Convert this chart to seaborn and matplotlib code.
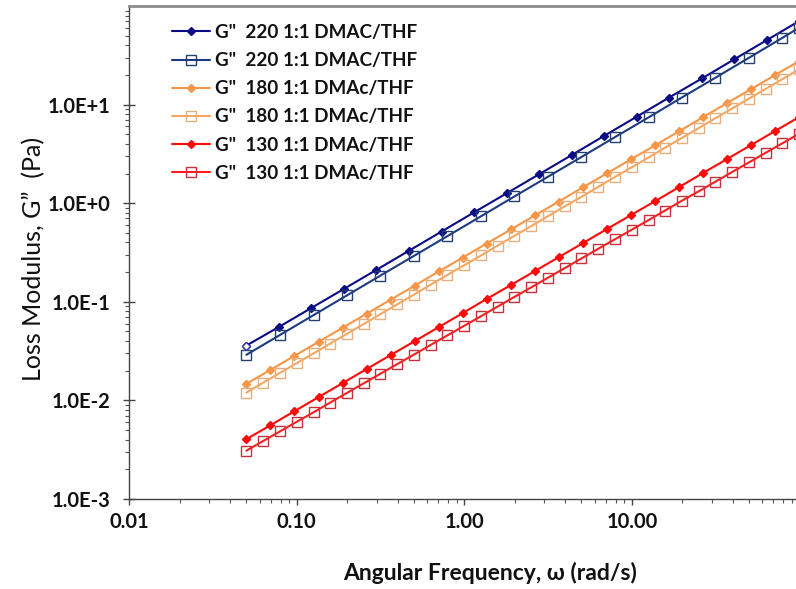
import matplotlib
matplotlib.use("Agg")
import matplotlib.pyplot as plt
import matplotlib.ticker as mticker
import seaborn as sns

# Angular frequency grids (rad/s)
w_220_d = [0.05, 0.0782, 0.122, 0.191, 0.299, 0.468, 0.732, 1.14, 1.79, 2.80, 4.38,
           6.84, 10.7, 16.7, 26.2, 40.9, 64.0, 100.0]
w_220_s = [0.05, 0.0792, 0.126, 0.199, 0.315, 0.500, 0.792, 1.26, 1.99, 3.15, 5.00,
           7.92, 12.6, 19.9, 31.5, 50.0, 79.2, 100.0]
w_d = [0.05, 0.0696, 0.0968, 0.135, 0.188, 0.261, 0.363, 0.506, 0.704, 0.979, 1.36,
       1.90, 2.64, 3.67, 5.11, 7.11, 9.90, 13.8, 19.2, 26.7, 37.1, 51.7, 71.9, 100.0]
w_s = [0.05, 0.0629, 0.0792, 0.0998, 0.126, 0.158, 0.199, 0.251, 0.315, 0.397, 0.500,
       0.629, 0.792, 0.998, 1.26, 1.58, 1.99, 2.51, 3.15, 3.97, 5.00, 6.29, 7.92, 9.98,
       12.6, 15.8, 19.9, 25.1, 31.5, 39.7, 50.0, 62.9, 79.2, 99.8]

# Loss modulus G'' (Pa)
g_220_d = [0.0360, 0.0556, 0.0865, 0.135, 0.211, 0.330, 0.516, 0.805, 1.26, 1.97, 3.08,
           4.82, 7.54, 11.8, 18.4, 28.8, 45.1, 70.5]
g_220_s = [0.0290, 0.0460, 0.0733, 0.116, 0.184, 0.292, 0.463, 0.738, 1.17, 1.85, 2.94,
           4.67, 7.42, 11.8, 18.7, 29.8, 47.5, 60.5]
g_180_d = [0.0147, 0.0204, 0.0283, 0.0393, 0.0546, 0.0757, 0.105, 0.146, 0.203, 0.281,
           0.390, 0.542, 0.752, 1.04, 1.45, 2.01, 2.79, 3.87, 5.38, 7.46, 10.4, 14.4,
           20.0, 27.7]
g_180_s = [0.0120, 0.0151, 0.0190, 0.0238, 0.0300, 0.0377, 0.0474, 0.0595, 0.0748,
           0.0941, 0.118, 0.149, 0.187, 0.235, 0.295, 0.371, 0.466, 0.586, 0.737, 0.927,
           1.16, 1.46, 1.84, 2.31, 2.91, 3.66, 4.59, 5.78, 7.26, 9.13, 11.5, 14.4, 18.1,
           22.8]
g_130_d = [0.00404, 0.00560, 0.00777, 0.0108, 0.0150, 0.0208, 0.0288, 0.0399, 0.0554,
           0.0768, 0.107, 0.148, 0.205, 0.284, 0.394, 0.547, 0.759, 1.05, 1.46, 2.03,
           2.81, 3.90, 5.41, 7.50]
g_130_s = [0.00309, 0.00387, 0.00484, 0.00606, 0.00758, 0.00949, 0.0119, 0.0149, 0.0186,
           0.0233, 0.0291, 0.0365, 0.0456, 0.0571, 0.0715, 0.0894, 0.112, 0.140, 0.175,
           0.219, 0.275, 0.344, 0.430, 0.538, 0.674, 0.843, 1.06, 1.32, 1.65, 2.07, 2.59,
           3.24, 4.05, 5.07]

labels = ['G"  220 1:1 DMAC/THF', 'G"  220 1:1 DMAC/THF',
          'G"  180 1:1 DMAc/THF', 'G"  180 1:1 DMAc/THF',
          'G"  130 1:1 DMAc/THF', 'G"  130 1:1 DMAc/THF']

x_ticks = [0.01, 0.1, 1, 10]
x_ticklabels = ["0.01", "0.10", "1.00", "10.00"]
y_ticks = [1e-3, 1e-2, 1e-1, 1e0, 1e1]
y_ticklabels = ["1.0E-3", "1.0E-2", "1.0E-1", "1.0E+0", "1.0E+1"]

sns.set_style("white")
plt.rcParams['font.family'] = ['Lato', 'DejaVu Sans']

W, H = 796, 589
fig = plt.figure(figsize=(W / 100, H / 100), dpi=100)
ax = fig.add_axes([129.3 / W, 90 / H, 670 / W, 493 / H])
ax.set_xscale("log")
ax.set_yscale("log")

series = [
    (w_220_d, g_220_d, labels[0], "D", "#0B0B86", "#0B0B86", "#0B0B86", 4.4),
    (w_220_s, g_220_s, labels[1], "s", "#1C3A80", "none", "#24406E", 6.6),
    (w_d, g_180_d, labels[2], "D", "#F79646", "#F79646", "#F79646", 4.4),
    (w_s, g_180_s, labels[3], "s", "#F5A65E", "none", "#E9AE7E", 6.6),
    (w_d, g_130_d, labels[4], "D", "#FF0A0A", "#FF0A0A", "#FF0A0A", 4.4),
    (w_s, g_130_s, labels[5], "s", "#FF1E1E", "none", "#C8323C", 6.6),
]
for x, y, lab, mk, lc, fc, ec, ms in series:
    sns.lineplot(x=x, y=y, ax=ax, label=lab, color=lc, linewidth=1.5,
                 marker=mk, markersize=ms, markerfacecolor=fc,
                 markeredgecolor=ec, markeredgewidth=1.0,
                 estimator=None, sort=False)

# first 220 point is drawn with an open face
ax.plot(w_220_d[:1], g_220_d[:1], linestyle="none", marker="D", markersize=4.4,
        markerfacecolor="white", markeredgecolor="#3A3A9A", markeredgewidth=1.0)

ax.set_xlim(0.01, 100)
ax.set_ylim(1e-3, 1e2)

ax.set_xticks(x_ticks)
ax.set_xticklabels(x_ticklabels)
ax.set_yticks(y_ticks)
ax.set_yticklabels(y_ticklabels)
ax.xaxis.set_minor_locator(mticker.LogLocator(base=10, subs=range(2, 10), numticks=20))
ax.yaxis.set_minor_locator(mticker.LogLocator(base=10, subs=range(2, 10), numticks=20))
ax.xaxis.set_minor_formatter(mticker.NullFormatter())
ax.yaxis.set_minor_formatter(mticker.NullFormatter())

for lab in ax.get_xticklabels() + ax.get_yticklabels():
    lab.set_fontweight("bold")
    lab.set_fontsize(14.5)
    lab.set_color("#111111")

ax.tick_params(axis="x", which="major", direction="out", length=4.5, width=1.0,
               color="#444444", bottom=True, pad=5)
ax.tick_params(axis="y", which="major", direction="inout", length=9, width=1.0,
               color="#444444", left=True, pad=9)
ax.tick_params(axis="both", which="minor", direction="out", length=3, width=0.8,
               color="#555555", bottom=True, left=True)

for side in ("left", "bottom"):
    ax.spines[side].set_color("#444444")
    ax.spines[side].set_linewidth(1.0)
ax.spines["top"].set_color("#8C8C8C")
ax.spines["top"].set_linewidth(2.0)
ax.spines["right"].set_visible(False)

ax.set_xlabel("")
ax.set_ylabel("")
fig.text(490 / W, 1 - 573 / H, "Angular Frequency, \u03c9 (rad/s)", ha="center",
         va="center", fontsize=16.5, fontweight="bold", color="#111111")
fig.text(34 / W, 1 - 259 / H, "Loss Modulus, G\u201d  (Pa)", ha="center", va="center",
         rotation=90, fontsize=18, color="#111111")

leg = ax.legend(loc="upper left", bbox_to_anchor=(172 / W, 1 - 24 / H),
                bbox_transform=fig.transFigure, frameon=False, borderpad=0,
                borderaxespad=0, handlelength=2.0, handletextpad=0.28,
                labelspacing=0.59, prop={"family": ["Lato", "DejaVu Sans"],
                                         "weight": "bold", "size": 13.6})
for t in leg.get_texts():
    t.set_color("#111111")

fig.savefig("out.png", dpi=100)
